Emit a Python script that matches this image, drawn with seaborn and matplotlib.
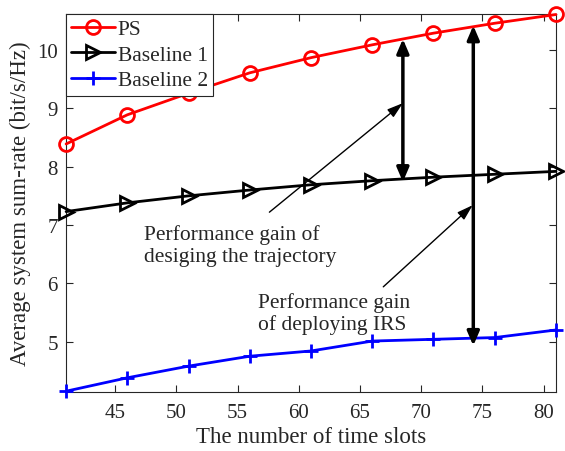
import matplotlib
matplotlib.use("Agg")
import matplotlib.pyplot as plt
import numpy as np
import pandas as pd
import seaborn as sns

# number of time slots
time_slots = [41, 46, 51, 56, 61, 66, 71, 76, 81]
ps_rate = [8.39, 8.89, 9.26, 9.61, 9.87, 10.09, 10.29, 10.46, 10.61]
baseline1_rate = [7.23, 7.38, 7.50, 7.60, 7.69, 7.76, 7.82, 7.87, 7.92]
baseline2_rate = [4.15, 4.38, 4.58, 4.75, 4.84, 5.01, 5.04, 5.07, 5.20]

x_ticks = [45, 50, 55, 60, 65, 70, 75, 80]
y_ticks = [5, 6, 7, 8, 9, 10]

sns.set_theme(style="ticks")
plt.rcParams['font.family'] = ['Liberation Serif', 'DejaVu Serif']

fig, ax = plt.subplots(figsize=(5.65, 4.52), dpi=100)
fig.subplots_adjust(left=0.117, right=0.984, bottom=0.131, top=0.967)

df = pd.DataFrame({'slots': time_slots, 'PS': ps_rate,
                   'Baseline 1': baseline1_rate, 'Baseline 2': baseline2_rate})

styles = {'PS': dict(color='#ff0000', marker='o'),
          'Baseline 1': dict(color='black', marker='>'),
          'Baseline 2': dict(color='#0000ff', marker='+')}

for name, st in styles.items():
    mfc = 'none' if st['marker'] != '+' else st['color']
    sns.lineplot(data=df, x='slots', y=name, ax=ax, color=st['color'], marker=st['marker'],
                 markersize=10, markerfacecolor=mfc, markeredgecolor=st['color'],
                 markeredgewidth=2, linewidth=2, label=name, clip_on=False, zorder=3)

ax.set_xlim(41, 81)
ax.set_ylim(4.14, 10.62)
ax.set_xticks(x_ticks)
ax.set_yticks(y_ticks)
ax.tick_params(direction='in', top=True, right=True, labelsize=15, length=5, width=0.8,
               colors='#262626')
ax.tick_params(axis='x', pad=8)
ax.tick_params(axis='y', pad=6)
for sp in ax.spines.values():
    sp.set_visible(True)
    sp.set_color('#262626')
    sp.set_linewidth(0.8)

ax.set_xlabel("The number of time slots", fontsize=16.5, color='#262626', labelpad=3)
ax.set_ylabel("Average system sum-rate (bit/s/Hz)", fontsize=16.5, color='#262626', labelpad=4)

leg = ax.legend(loc='upper left', fontsize=15.5, frameon=True, fancybox=False,
                borderaxespad=0, borderpad=0.25, handlelength=2.0, handletextpad=0.15,
                labelspacing=0.25)
leg.get_frame().set_edgecolor('#262626')
leg.get_frame().set_linewidth(0.8)
leg.get_frame().set_alpha(1)

# double-headed arrows showing the gains
head = '<|-|>,head_length=0.7,head_width=0.3'
ax.annotate('', xy=(68.5, 10.19), xytext=(68.5, 7.74),
            arrowprops=dict(arrowstyle=head, color='black', lw=2.5, shrinkA=0, shrinkB=0))
ax.annotate('', xy=(74.25, 10.42), xytext=(74.25, 4.93),
            arrowprops=dict(arrowstyle=head, color='black', lw=2.5, shrinkA=0, shrinkB=0))

# pointer arrows with labels
ax.annotate('', xy=(68.5, 9.09), xytext=(57.6, 7.22),
            arrowprops=dict(arrowstyle='-|>,head_length=0.8,head_width=0.25', color='black',
                            lw=1, shrinkA=0, shrinkB=0))
ax.annotate('', xy=(74.2, 7.34), xytext=(66.9, 5.94),
            arrowprops=dict(arrowstyle='-|>,head_length=0.8,head_width=0.25', color='black',
                            lw=1, shrinkA=0, shrinkB=0))

ax.text(47.4, 6.65, "Performance gain of\ndesiging the trajectory", fontsize=15.5,
        ha='left', va='center', color='#262626', linespacing=1.2)
ax.text(56.7, 5.49, "Performance gain\nof deploying IRS", fontsize=15.5,
        ha='left', va='center', color='#262626', linespacing=1.2)

fig.savefig("out.png", dpi=100)
